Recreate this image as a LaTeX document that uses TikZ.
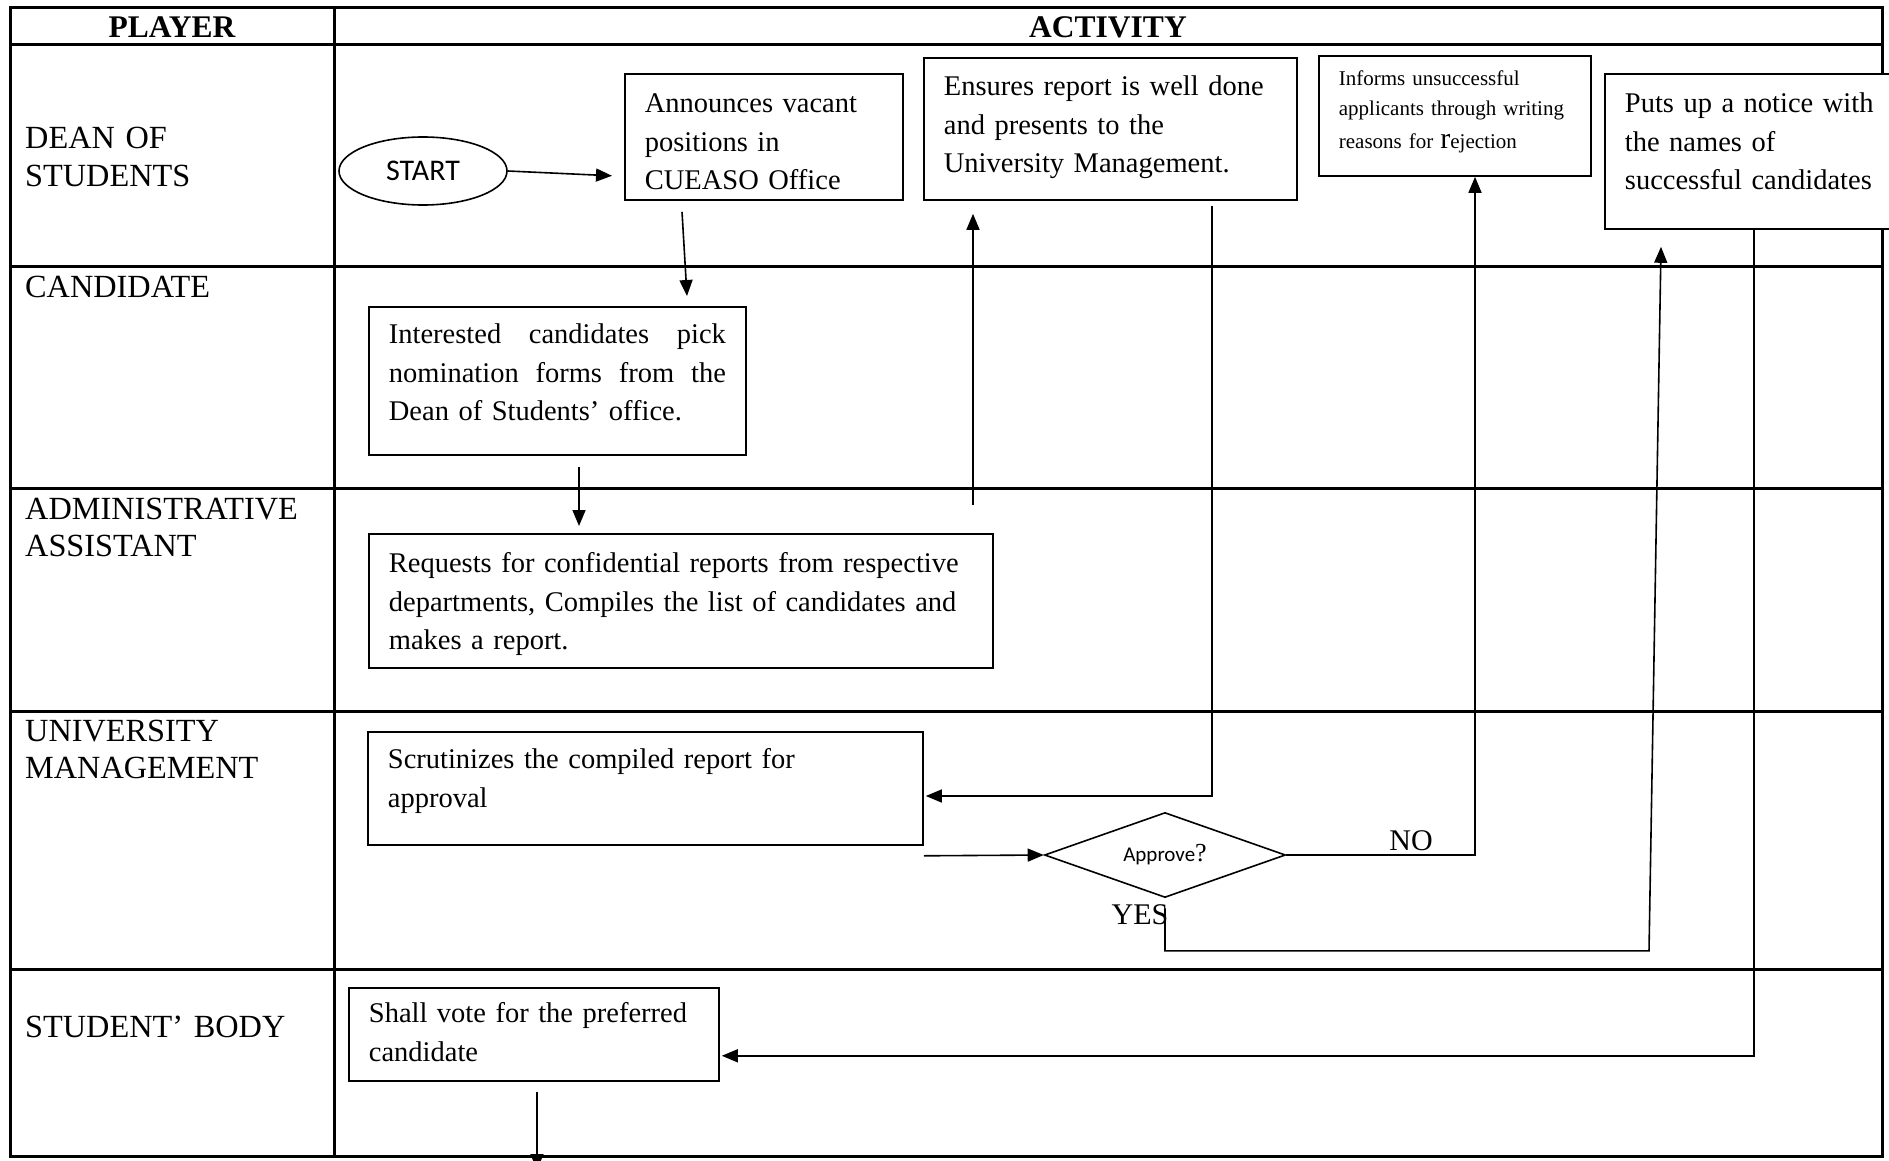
\documentclass[tikz,border=0pt]{standalone}
\usepackage{fontspec}
\setmainfont{Liberation Serif}
\newfontfamily\carlito{Carlito}
\usetikzlibrary{shapes.geometric,arrows.meta,calc}

\tikzset{
  lane/.style={line width=3pt},
  box/.style={draw, line width=1.8pt, fill=white, anchor=north west, inner xsep=20pt, inner ysep=0pt, align=left, font=\fontsize{28.5}{38.5}\selectfont},
  player/.style={anchor=base west, inner sep=0pt, text width=300pt, align=left, font=\fontsize{32.3}{37.5}\selectfont},
  flow/.style={line width=1.6pt, -{Triangle[length=16pt,width=13pt]}},
}

\begin{document}
\begin{tikzpicture}[x=1pt, y=-1pt]
  \useasboundingbox (0,0) rectangle (1889,1161);

	% Draw table
  \draw[lane] (10,8) rectangle (1882,1156);
  \draw[lane] (10,45) -- (1882,45);
  \draw[lane] (334,8) -- (334,1156);
  \foreach \y in {266,488,711,969}
    \draw[lane] (10,\y) -- (1882,\y);

	% Header
  \node[font=\bfseries\fontsize{31.5}{31.5}\selectfont] (player) at (172,27) {PLAYER};
  \node[font=\bfseries\fontsize{31.5}{31.5}\selectfont] (activity) at (1108,27) {ACTIVITY};

	% Players
  \node[player] (dean) at (25,149) {DEAN OF\\STUDENTS};
  \node[player] (cand) at (25,297) {CANDIDATE};
  \node[player] (admin) at (25,519) {ADMINISTRATIVE\\ASSISTANT};
  \node[player] (mgmt) at (25,741) {UNIVERSITY\\MANAGEMENT};
  \node[player] (body) at (25,1037) {STUDENT’ BODY};

	% Activities
  \node[draw, ellipse, line width=1.6pt, minimum width=168pt, minimum height=68pt, inner sep=0pt, font=\carlito\fontsize{30}{30}\selectfont] (start) at (423,171) {START};
  \node[box, text width=238pt, text height=39pt, text depth=87pt] (announce) at (624,73) {Announces vacant\\positions in\\CUEASO Office};
  \node[box, text width=333pt, text height=38pt, text depth=104pt] (ensure) at (923,57) {Ensures report is well done\\and presents to the\\University Management.};
  \node[box, text width=232pt, text height=30pt, text depth=90pt, font=\fontsize{21}{30}\selectfont] (inform) at (1318,55) {Informs unsuccessful\\applicants through writing\\[3pt]reasons for {\fontsize{30}{30}\selectfont r}ejection};
  \node[box, text width=270pt, text height=39pt, text depth=116pt] (notice) at (1604,73) {Puts up a notice with\\the names of\\successful candidates};
  \node[box, text width=337pt, text height=37pt, text depth=111pt] (interest) at (368,306) {Interested\hfill candidates\hfill pick\\nomination\hfill forms\hfill from\hfill the\\Dean of Students’ office.};
  \node[box, text width=584pt, text height=39pt, text depth=95pt] (request) at (368,533) {Requests for confidential reports from respective\\departments, Compiles the list of candidates and\\makes a report.};
  \node[box, text width=515pt, text height=37pt, text depth=76pt] (scrut) at (367,731) {Scrutinizes the compiled report for\\approval};
  \node[draw, diamond, aspect=2.84, line width=1.6pt, minimum width=241pt, minimum height=85pt, inner sep=0pt] (approve) at (1165,855) {{\carlito\fontsize{21}{21}\selectfont Approve}{\fontsize{26}{26}\selectfont ?}};
  \node[box, text width=330pt, text height=35pt, text depth=58pt] (vote) at (348,987) {Shall vote for the preferred\\candidate};
  \node[font=\fontsize{30}{30}\selectfont] (no) at (1411,841) {NO};
  \node[font=\fontsize{30}{30}\selectfont] (yes) at (1140,915) {YES};
  \coordinate (next) at (537,1170);

	% Connectors
  \draw[flow] (start.east) -- ($(announce.south west)+(-12,-25)$);
  \draw[flow] ($(announce.south west)+(58,11)$) -- ($(interest.north west)+(319,-10)$);
  \draw[flow] ($(interest.south west)+(211,11)$) -- ($(request.north west)+(211,-7)$);
  \draw[flow] ($(request.north west)+(605,-28)$) -- ($(ensure.south west)+(50,13)$);
  \draw[flow] ($(ensure.south west)+(289,5)$) |- ($(scrut.north east)+(2,65)$);
  \draw[flow] ($(scrut.south east)+(0,10)$) -- (approve.west);
  \draw[flow] (approve.east) -| ($(inform.south west)+(157,0)$);
  \draw[flow] ($(approve.south)+(0,10)$) |- ($(notice.south west)+(45,721)$) -- ($(notice.south west)+(57,17)$);
  \draw[flow] ($(notice.south west)+(150,0)$) |- ($(vote.south east)+(2,-26)$);
  \draw[flow] ($(vote.south west)+(189,10)$) -- (next);

\end{tikzpicture}
\end{document}
